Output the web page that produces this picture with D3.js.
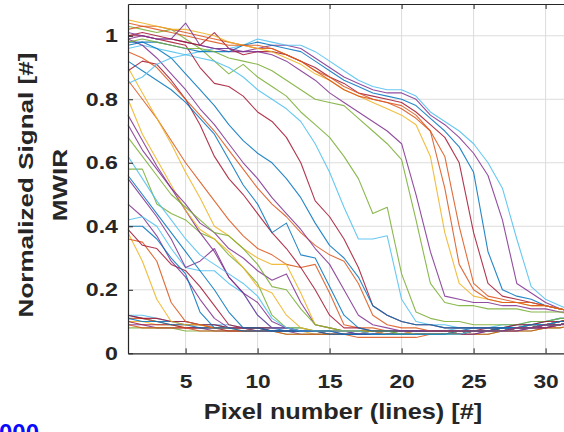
<!DOCTYPE html>
<html>
<head>
<meta charset="utf-8">
<script src="https://cdn.jsdelivr.net/npm/d3@7"></script>
<style>
  html, body { margin: 0; padding: 0; background: #fff; }
  svg { display: block; font-family: "Liberation Sans", Arial, Helvetica, sans-serif; }
</style>
</head>
<body>
<svg id="chart" width="564" height="432"></svg>
<script>
// ── data ─────────────────────────────────────────
const pixels = [1,2,3,4,5,6,7,8,9,10,11,12,13,14,15,16,17,18,19,20,21,22,23,24,25,26,27,28,29,30,31,32,33];

const xTicks = [5, 10, 15, 20, 25, 30];
const yTicks = [0, 0.2, 0.4, 0.6, 0.8, 1];

// MATLAB default line colour order
const lineColors = ["#0072BD","#D95319","#EDB120","#7E2F8E","#77AC30","#4DBEEE","#A2142F"];

// flat runs sitting on the background level
const flatRuns = [
  [0.12,0.11,0.10,0.10,0.09,0.09,0.09,0.08,0.08,0.08,0.08,0.07,0.07,0.07,0.07,0.07,0.07,0.07,0.07,0.07,0.07,0.07,0.07,0.07,0.08,0.08,0.08,0.09,0.09,0.10,0.11,0.11,0.12],
  [0.11,0.11,0.10,0.09,0.09,0.09,0.08,0.08,0.08,0.07,0.07,0.07,0.07,0.07,0.06,0.06,0.06,0.06,0.06,0.06,0.06,0.06,0.06,0.07,0.07,0.07,0.08,0.08,0.09,0.09,0.10,0.10,0.11],
  [0.10,0.10,0.09,0.09,0.08,0.08,0.08,0.08,0.07,0.07,0.07,0.07,0.07,0.06,0.06,0.06,0.06,0.06,0.06,0.06,0.06,0.06,0.06,0.06,0.07,0.07,0.07,0.08,0.08,0.09,0.09,0.10,0.10],
  [0.09,0.09,0.08,0.08,0.08,0.08,0.07,0.07,0.07,0.07,0.07,0.07,0.06,0.06,0.06,0.06,0.06,0.06,0.06,0.06,0.06,0.06,0.06,0.06,0.06,0.07,0.07,0.07,0.08,0.08,0.09,0.09,0.10],
  [0.08,0.08,0.08,0.08,0.07,0.07,0.07,0.07,0.07,0.07,0.07,0.06,0.06,0.06,0.06,0.06,0.06,0.06,0.06,0.06,0.06,0.06,0.06,0.06,0.06,0.06,0.07,0.07,0.07,0.08,0.08,0.09,0.09],
  [0.12,0.12,0.11,0.10,0.10,0.09,0.09,0.09,0.08,0.08,0.08,0.08,0.08,0.07,0.07,0.07,0.07,0.07,0.07,0.07,0.07,0.07,0.07,0.08,0.08,0.08,0.09,0.09,0.10,0.10,0.11,0.11,0.12],
  [0.10,0.09,0.09,0.09,0.08,0.08,0.08,0.07,0.07,0.07,0.07,0.07,0.07,0.07,0.06,0.06,0.06,0.06,0.06,0.06,0.06,0.06,0.06,0.06,0.07,0.07,0.07,0.08,0.08,0.08,0.09,0.10,0.10],
  [0.11,0.10,0.10,0.09,0.09,0.08,0.08,0.08,0.08,0.08,0.07,0.07,0.07,0.07,0.07,0.07,0.06,0.06,0.06,0.06,0.06,0.06,0.06,0.07,0.07,0.07,0.08,0.08,0.08,0.09,0.10,0.10,0.11],
  [0.09,0.08,0.08,0.08,0.08,0.07,0.07,0.07,0.07,0.07,0.07,0.06,0.06,0.06,0.06,0.06,0.05,0.05,0.05,0.05,0.05,0.06,0.06,0.06,0.06,0.06,0.07,0.07,0.07,0.08,0.08,0.09,0.09],
  [0.12,0.11,0.11,0.10,0.10,0.09,0.09,0.08,0.08,0.08,0.08,0.08,0.07,0.07,0.07,0.07,0.07,0.07,0.07,0.07,0.07,0.07,0.07,0.07,0.07,0.08,0.08,0.08,0.09,0.09,0.10,0.11,0.11]
];
const flatColorIdx = [0,1,2,3,4,5,6,0,1,6];

// runs that fall off within the first ~15 pixels
const earlyDrops = [
  [0.38,0.29,0.17,0.10,0.09,0.09,0.08,0.08,0.08,0.07,0.07,0.07,0.07,0.07,0.07,0.07,0.07,0.06,0.06,0.06,0.06,0.06,0.06,0.06,0.07,0.07,0.07,0.08,0.08,0.09,0.09,0.10,0.10],
  [0.36,0.35,0.29,0.16,0.10,0.09,0.08,0.08,0.08,0.08,0.07,0.07,0.07,0.07,0.07,0.07,0.07,0.07,0.06,0.06,0.06,0.06,0.06,0.07,0.07,0.07,0.08,0.08,0.08,0.09,0.09,0.10,0.11],
  [0.39,0.34,0.33,0.28,0.26,0.21,0.15,0.09,0.08,0.08,0.07,0.07,0.07,0.07,0.07,0.07,0.07,0.06,0.06,0.06,0.06,0.06,0.06,0.06,0.07,0.07,0.07,0.08,0.08,0.09,0.10,0.10,0.11],
  [0.47,0.43,0.37,0.29,0.24,0.17,0.11,0.08,0.08,0.07,0.07,0.07,0.07,0.07,0.07,0.06,0.06,0.06,0.06,0.06,0.06,0.06,0.06,0.06,0.06,0.07,0.07,0.07,0.08,0.08,0.09,0.10,0.10],
  [0.40,0.40,0.36,0.30,0.25,0.13,0.08,0.08,0.07,0.07,0.07,0.07,0.07,0.07,0.06,0.06,0.06,0.06,0.06,0.06,0.06,0.06,0.06,0.07,0.07,0.07,0.08,0.08,0.08,0.09,0.09,0.10,0.11],
  [0.42,0.43,0.40,0.33,0.27,0.26,0.26,0.22,0.19,0.12,0.08,0.08,0.07,0.07,0.07,0.07,0.07,0.07,0.07,0.06,0.06,0.06,0.06,0.07,0.07,0.07,0.07,0.08,0.08,0.09,0.09,0.10,0.10],
  [0.55,0.49,0.43,0.36,0.27,0.29,0.33,0.24,0.19,0.16,0.10,0.08,0.07,0.07,0.07,0.07,0.07,0.07,0.06,0.06,0.06,0.06,0.06,0.06,0.07,0.07,0.07,0.08,0.08,0.09,0.09,0.10,0.10],
  [0.58,0.58,0.47,0.44,0.42,0.38,0.36,0.31,0.27,0.22,0.12,0.08,0.08,0.07,0.07,0.07,0.07,0.07,0.07,0.06,0.06,0.06,0.06,0.07,0.07,0.07,0.08,0.08,0.09,0.09,0.10,0.11,0.11],
  [0.75,0.67,0.59,0.52,0.45,0.38,0.32,0.24,0.19,0.12,0.08,0.08,0.07,0.07,0.07,0.07,0.06,0.06,0.06,0.06,0.06,0.06,0.06,0.06,0.07,0.07,0.07,0.08,0.08,0.09,0.09,0.10,0.10],
  [0.80,0.69,0.61,0.53,0.45,0.39,0.36,0.32,0.27,0.21,0.19,0.12,0.08,0.07,0.07,0.07,0.07,0.07,0.06,0.06,0.06,0.06,0.06,0.07,0.07,0.07,0.07,0.08,0.08,0.09,0.10,0.10,0.11],
  [0.86,0.80,0.74,0.67,0.60,0.54,0.48,0.42,0.37,0.33,0.31,0.28,0.27,0.28,0.19,0.09,0.08,0.08,0.07,0.07,0.07,0.07,0.07,0.07,0.07,0.07,0.08,0.08,0.08,0.09,0.09,0.10,0.11],
  [0.72,0.64,0.58,0.52,0.47,0.41,0.38,0.33,0.30,0.26,0.23,0.25,0.16,0.09,0.08,0.07,0.07,0.07,0.07,0.07,0.06,0.06,0.06,0.06,0.07,0.07,0.07,0.08,0.08,0.09,0.09,0.10,0.10],
  [0.90,0.82,0.74,0.66,0.57,0.49,0.40,0.37,0.33,0.30,0.28,0.28,0.19,0.09,0.08,0.07,0.07,0.07,0.07,0.07,0.06,0.06,0.06,0.07,0.07,0.07,0.07,0.08,0.08,0.09,0.09,0.10,0.11],
  [0.89,0.92,0.91,0.86,0.80,0.72,0.62,0.55,0.50,0.44,0.38,0.33,0.27,0.20,0.12,0.08,0.08,0.07,0.07,0.07,0.07,0.07,0.07,0.07,0.07,0.07,0.08,0.08,0.08,0.09,0.10,0.10,0.11],
  [0.68,0.62,0.56,0.50,0.46,0.42,0.38,0.37,0.33,0.28,0.21,0.20,0.14,0.09,0.08,0.07,0.07,0.07,0.07,0.06,0.06,0.06,0.06,0.06,0.07,0.07,0.07,0.08,0.08,0.09,0.09,0.10,0.10],
  [0.62,0.55,0.48,0.42,0.36,0.31,0.28,0.25,0.22,0.18,0.11,0.08,0.07,0.07,0.07,0.07,0.07,0.06,0.06,0.06,0.06,0.06,0.06,0.06,0.07,0.07,0.07,0.08,0.08,0.09,0.09,0.10,0.11],
  [0.56,0.50,0.44,0.38,0.32,0.26,0.20,0.13,0.08,0.08,0.07,0.07,0.07,0.07,0.07,0.06,0.06,0.06,0.06,0.06,0.06,0.06,0.06,0.07,0.07,0.07,0.07,0.08,0.08,0.09,0.09,0.10,0.10]
];
const earlyColorIdx = [2,1,6,3,0,5,3,4,3,2,1,3,2,6,4,5,0];

// runs that fall off between pixel ~15 and ~21
const midDrops = [
  [1.03,1.02,1.01,1.02,0.99,0.96,0.92,0.88,0.91,0.87,0.84,0.81,0.76,0.72,0.68,0.62,0.55,0.44,0.46,0.25,0.13,0.11,0.10,0.10,0.09,0.09,0.09,0.09,0.10,0.10,0.11,0.11,0.12],
  [0.96,0.97,0.96,0.95,0.94,0.93,0.92,0.90,0.87,0.83,0.80,0.77,0.73,0.66,0.57,0.46,0.36,0.36,0.37,0.17,0.10,0.09,0.09,0.08,0.08,0.08,0.08,0.08,0.09,0.09,0.10,0.10,0.11],
  [1.00,1.00,0.99,0.98,0.97,0.90,0.85,0.84,0.81,0.76,0.73,0.68,0.60,0.48,0.43,0.36,0.27,0.15,0.12,0.10,0.09,0.09,0.08,0.08,0.08,0.08,0.08,0.09,0.09,0.10,0.10,0.11,0.11],
  [0.98,0.98,0.96,0.93,0.88,0.83,0.78,0.72,0.67,0.63,0.60,0.55,0.49,0.41,0.34,0.30,0.24,0.15,0.12,0.10,0.09,0.09,0.08,0.08,0.08,0.08,0.08,0.08,0.09,0.09,0.10,0.10,0.11],
  [0.92,0.89,0.86,0.83,0.79,0.74,0.69,0.61,0.53,0.47,0.38,0.41,0.31,0.30,0.21,0.12,0.08,0.07,0.07,0.07,0.07,0.07,0.07,0.07,0.07,0.07,0.08,0.08,0.08,0.09,0.09,0.10,0.10],
  [0.95,0.93,0.90,0.85,0.80,0.75,0.70,0.64,0.58,0.52,0.47,0.43,0.38,0.34,0.31,0.29,0.22,0.12,0.09,0.08,0.08,0.07,0.07,0.07,0.07,0.07,0.07,0.08,0.08,0.09,0.09,0.10,0.10],
  [0.99,0.97,0.93,0.88,0.83,0.77,0.72,0.66,0.60,0.55,0.49,0.44,0.39,0.33,0.28,0.20,0.12,0.09,0.08,0.07,0.07,0.07,0.07,0.07,0.07,0.07,0.07,0.08,0.08,0.09,0.09,0.10,0.10]
];
const midColorIdx = [4,5,6,0,0,1,3];

// runs that keep the plateau and fall off late
const lateDrops = [
  [0.99,1.00,0.99,0.99,0.98,0.97,0.96,0.95,0.95,0.96,0.97,0.97,0.96,0.93,0.90,0.87,0.85,0.83,0.82,0.82,0.80,0.75,0.72,0.68,0.63,0.56,0.42,0.22,0.19,0.16,0.14,0.13,0.12],
  [0.85,0.87,0.91,0.93,0.94,0.95,0.96,0.96,0.97,0.99,0.98,0.97,0.97,0.95,0.92,0.89,0.86,0.84,0.83,0.83,0.81,0.76,0.73,0.70,0.66,0.60,0.52,0.36,0.21,0.17,0.15,0.13,0.12],
  [0.97,0.98,0.98,0.97,0.96,0.95,0.95,0.95,0.97,0.98,0.97,0.96,0.95,0.92,0.89,0.86,0.84,0.82,0.81,0.80,0.78,0.74,0.70,0.65,0.57,0.32,0.20,0.18,0.17,0.15,0.14,0.13,0.12],
  [1.00,1.01,1.00,0.99,0.98,0.97,1.01,0.96,0.94,0.95,0.95,0.94,0.92,0.90,0.87,0.85,0.82,0.81,0.80,0.79,0.76,0.72,0.68,0.60,0.38,0.22,0.18,0.17,0.16,0.15,0.14,0.13,0.12],
  [1.04,1.03,1.03,1.02,1.01,1.00,0.99,0.98,0.97,0.96,0.96,0.94,0.92,0.89,0.87,0.84,0.82,0.80,0.79,0.77,0.74,0.70,0.62,0.40,0.22,0.18,0.17,0.16,0.16,0.15,0.14,0.13,0.12],
  [1.05,1.04,1.03,1.02,1.02,1.01,1.00,0.98,0.97,0.96,0.95,0.93,0.91,0.88,0.86,0.83,0.81,0.79,0.77,0.75,0.72,0.62,0.38,0.22,0.18,0.17,0.16,0.16,0.15,0.15,0.14,0.13,0.12],
  [1.02,1.03,1.02,1.01,1.00,0.99,0.98,0.97,0.97,0.97,0.96,0.94,0.92,0.89,0.86,0.83,0.81,0.80,0.79,0.78,0.75,0.70,0.52,0.28,0.20,0.17,0.16,0.16,0.15,0.15,0.14,0.13,0.12],
  [1.01,1.00,0.99,0.99,1.04,0.97,0.96,0.96,0.95,0.95,0.94,0.92,0.89,0.86,0.82,0.79,0.76,0.73,0.70,0.66,0.50,0.32,0.18,0.17,0.16,0.16,0.15,0.15,0.14,0.14,0.13,0.13,0.12],
  [0.98,0.99,0.98,0.97,0.96,0.96,0.95,0.93,0.92,0.91,0.89,0.86,0.83,0.80,0.79,0.78,0.74,0.70,0.66,0.61,0.42,0.22,0.16,0.15,0.15,0.14,0.14,0.14,0.13,0.13,0.13,0.12,0.12]
];
const lateColorIdx = [3,5,0,6,1,2,1,3,4];

// ── layout ───────────────────────────────────────
const svg = d3.select("#chart");
const INK = "#262626";
const FONT = "'Liberation Sans', Arial, Helvetica, sans-serif";

const x = d3.scaleLinear().domain([1, 33]).range([128, 588.8]);
const y = d3.scaleLinear().domain([0, 1.1]).range([353.3, 4]);

// the source figure was stretched sideways, so its text reads wide
function widen(sel, k) {
  sel.each(function() {
    const len = this.getComputedTextLength();
    d3.select(this)
      .attr("textLength", len * k)
      .attr("lengthAdjust", "spacingAndGlyphs");
  });
}

// grid
const grid = svg.append("g").attr("class", "grid");
grid.selectAll(".gx").data(xTicks).join("line")
  .attr("x1", d => x(d)).attr("x2", d => x(d))
  .attr("y1", y(0)).attr("y2", y(1.1))
  .attr("stroke", "#dcdcdc").attr("stroke-width", 1);
grid.selectAll(".gy").data(yTicks.filter(d => d > 0)).join("line")
  .attr("x1", x(1)).attr("x2", x(33))
  .attr("y1", d => y(d)).attr("y2", d => y(d))
  .attr("stroke", "#dcdcdc").attr("stroke-width", 1);

// lines
const lineGen = d3.line()
  .x((d, i) => x(pixels[i]))
  .y(d => y(d));

function drawGroup(series, colorIdx, cls) {
  svg.append("g").attr("class", cls)
    .selectAll("path")
    .data(series)
    .join("path")
      .attr("d", lineGen)
      .attr("fill", "none")
      .attr("stroke", (d, i) => lineColors[colorIdx[i] % lineColors.length])
      .attr("stroke-width", 1.1)
      .attr("stroke-opacity", 0.85)
      .attr("stroke-linejoin", "round");
}
drawGroup(flatRuns, flatColorIdx, "flat");
drawGroup(earlyDrops, earlyColorIdx, "early");
drawGroup(midDrops, midColorIdx, "mid");
drawGroup(lateDrops, lateColorIdx, "late");

// axes
function styleAxis(g) {
  g.selectAll(".domain").attr("stroke", INK).attr("stroke-width", 1.2);
  g.selectAll(".tick line").attr("stroke", INK).attr("stroke-width", 1);
  g.selectAll("text")
    .attr("fill", INK)
    .attr("font-size", 19)
    .attr("font-weight", "bold")
    .attr("font-family", FONT);
}

svg.append("g")
  .attr("transform", `translate(0,${y(0)})`)
  .call(d3.axisBottom(x).tickValues(xTicks).tickSize(-5).tickSizeOuter(0).tickPadding(21))
  .call(styleAxis)
  .call(g => widen(g.selectAll("text"), 1.2));

svg.append("g")
  .attr("transform", `translate(0,${y(1.1)})`)
  .call(d3.axisTop(x).tickValues(xTicks).tickSize(-5).tickSizeOuter(0).tickFormat(""))
  .call(styleAxis);

svg.append("g")
  .attr("transform", `translate(${x(1)},0)`)
  .call(d3.axisLeft(y).tickValues(yTicks).tickSize(-5).tickSizeOuter(0).tickPadding(10).tickFormat(d => String(d)))
  .call(styleAxis)
  .call(g => widen(g.selectAll("text"), 1.22));

// labels
svg.append("text")
  .attr("x", 343).attr("y", 419)
  .attr("text-anchor", "middle")
  .attr("font-size", 22).attr("font-weight", "bold").attr("fill", INK)
  .text("Pixel number (lines) [#]")
  .call(t => widen(t, 1.15));

svg.append("text")
  .attr("transform", "translate(33,185) rotate(-90)")
  .attr("text-anchor", "middle")
  .attr("font-size", 21).attr("font-weight", "bold").attr("fill", INK)
  .text("Normalized Signal [#]")
  .call(t => widen(t, 1.24));

svg.append("text")
  .attr("transform", "translate(67,185) rotate(-90)")
  .attr("text-anchor", "middle")
  .attr("font-size", 21).attr("font-weight", "bold").attr("fill", INK)
  .text("MWIR")
  .call(t => widen(t, 1.24));

// cropped blue caption at the bottom edge
svg.append("text")
  .attr("x", -1).attr("y", 441)
  .attr("font-size", 24).attr("font-weight", "bold").attr("fill", "#0a0aff")
  .text("000");
</script>
</body>
</html>
